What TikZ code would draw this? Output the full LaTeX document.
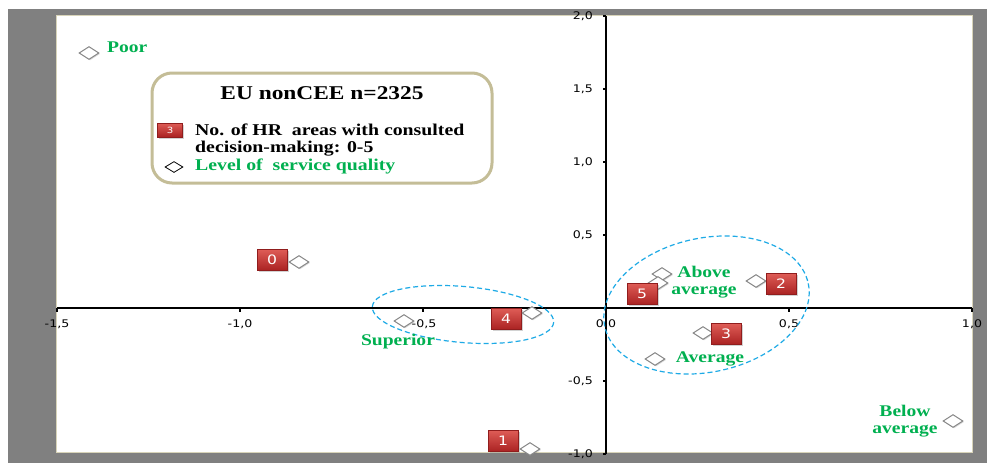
\documentclass[tikz,border=0pt]{standalone}
\usepackage{fontspec}
\setmainfont{Liberation Serif}
\newfontfamily\tickfont{DejaVu Sans}
\usepackage{graphicx}
\usetikzlibrary{shapes.geometric,shadows}
\definecolor{frameGray}{RGB}{128,128,128}
\definecolor{plotBorder}{RGB}{216,212,185}
\definecolor{legBorder}{RGB}{196,189,151}
\definecolor{qgreen}{RGB}{0,176,80}
\definecolor{ecyan}{RGB}{30,170,230}
\definecolor{redTop}{RGB}{222,92,86}
\definecolor{redBot}{RGB}{170,34,34}
\definecolor{dgray}{RGB}{135,135,135}
\newcommand{\sx}[1]{\scalebox{1.2}[1]{#1}}
\tikzset{
  qlabel/.style={text=qgreen, font=\fontsize{16.3}{16.5}\selectfont\bfseries, inner sep=0, align=center},
  numbox/.style={rectangle, minimum width=30pt, minimum height=21pt, inner sep=0,
    top color=redTop, bottom color=redBot, draw=redBot!85!black, line width=0.4pt,
    text=white, font=\tickfont\fontsize{13}{13}\selectfont,
    drop shadow={opacity=0.35, shadow xshift=1.5pt, shadow yshift=-1.5pt}},
  qdiamond/.style={diamond, aspect=1.5, minimum width=20pt, minimum height=13pt, inner sep=0,
    fill=white, draw=dgray, line width=1pt,
    drop shadow={opacity=0.3, shadow xshift=1pt, shadow yshift=-1pt}},
  legdiamond/.style={diamond, aspect=1.6, minimum width=18pt, minimum height=11pt, inner sep=0,
    fill=white, draw=black, line width=0.8pt},
  ticklabel/.style={font=\tickfont\fontsize{10.5}{10.5}\selectfont, inner sep=0},
  axisline/.style={line width=2.4pt, black},
  tickmark/.style={line width=2pt, black},
  qualityellipse/.style={draw=ecyan, line width=1.2pt, dash pattern=on 5pt off 3pt},
  legtext/.style={font=\fontsize{16.5}{17.5}\selectfont\bfseries, inner sep=0, anchor=base west}
}
\begin{document}
\begin{tikzpicture}[x=1pt,y=-1pt]
\useasboundingbox (0,0) rectangle (987,463);
\fill[white] (0,0) rectangle (987,463);
\fill[frameGray] (8,9) rectangle (987,463);
\draw[plotBorder, fill=white, line width=1pt] (56.5,15.5) rectangle (972.5,452.5);

% axes
\draw[axisline] (57,308) -- (972,308);
\draw[axisline] (606,16) -- (606,454);
\foreach \xx in {57,240,423,789,972} \draw[tickmark] (\xx,308) -- (\xx,311.5);
\foreach \yy in {16,89,162,235,381,454} \draw[tickmark] (606,\yy) -- (602.5,\yy);

% tick labels
\node[ticklabel] (xlA) at (57,324) {\sx{-1,5}};
\node[ticklabel] (xlB) at (240,324) {\sx{-1,0}};
\node[ticklabel] (xlC) at (424,324) {\sx{-0,5}};
\node[ticklabel] (xlD) at (606,324) {\sx{0,0}};
\node[ticklabel] (xlE) at (789,324) {\sx{0,5}};
\node[ticklabel] (xlF) at (972,324) {\sx{1,0}};
\node[ticklabel, anchor=east] (ylA) at (593,16) {\sx{2,0}};
\node[ticklabel, anchor=east] (ylB) at (593,89) {\sx{1,5}};
\node[ticklabel, anchor=east] (ylC) at (593,162) {\sx{1,0}};
\node[ticklabel, anchor=east] (ylD) at (593,235) {\sx{0,5}};
\node[ticklabel, anchor=east] (ylE) at (593,381) {\sx{-0,5}};
\node[ticklabel, anchor=east] (ylF) at (593,454) {\sx{-1,0}};

% ellipses
\begin{scope}[shift={(463,314.5)}, rotate=-5]
  \draw[qualityellipse] (0,0) ellipse [x radius=91, y radius=28];
\end{scope}
\begin{scope}[shift={(706.5,305)}, rotate=12]
  \draw[qualityellipse] (0,0) ellipse [x radius=104, y radius=67];
\end{scope}

% points
\node[qdiamond] (dPoor) at (89,53) {};
\node[qlabel, anchor=west] (lPoor) at (107,47) {\sx{Poor}};
\node[qdiamond] (d0) at (299,262) {};
\node[numbox] (b0) at (272,260) {\sx{0}};
\node[qdiamond] (dSup) at (404,321) {};
\node[qlabel] (lSup) at (398,342) {\sx{Superior}};
\node[numbox] (b4) at (506,319) {\sx{4}};
\node[qdiamond] (d4) at (532,313) {};
\node[qdiamond] (dAbA) at (662,274) {};
\node[qdiamond] (dAbB) at (658,283) {};
\node[numbox] (b5) at (642,294) {\sx{5}};
\node[qlabel] (lAbove) at (704,282) {\sx{Above}\\\sx{average}};
\node[qdiamond] (d2) at (756,281) {};
\node[numbox] (b2) at (781,284) {\sx{2}};
\node[qdiamond] (d3) at (703,333) {};
\node[numbox] (b3) at (726,334) {\sx{3}};
\node[qdiamond] (dAvg) at (655,359) {};
\node[qlabel] (lAvg) at (710,359) {\sx{Average}};
\node[numbox] (b1) at (503,441) {\sx{1}};
\node[qdiamond] (d1) at (530,449) {};
\node[qdiamond] (dBelow) at (953,421) {};
\node[qlabel] (lBelow) at (905,421) {\sx{Below}\\\sx{average}};

% legend
\node[draw=legBorder, line width=3pt, rounded corners=20pt, fill=white,
      minimum width=340pt, minimum height=110pt] (legend) at (322,128) {};
\node[font=\fontsize{19.5}{20}\selectfont\bfseries, inner sep=0] (legTitle) at (322,93) {\sx{EU nonCEE n=2325}};
\node[numbox, minimum width=25pt, minimum height=14pt, font=\tickfont\fontsize{8.5}{8.5}\selectfont] (legBox) at (170,130) {\sx{3}};
\node[legtext] (legLineA) at (195,135.5) {\sx{No. of HR\ \ areas with consulted}};
\node[legtext] (legLineB) at (195,152.5) {\sx{decision-making: 0-5}};
\node[legdiamond] (legDia) at (174,167) {};
\node[legtext, text=qgreen] (legQual) at (195,170.5) {\sx{Level of\ \ service quality}};
\end{tikzpicture}
\end{document}
